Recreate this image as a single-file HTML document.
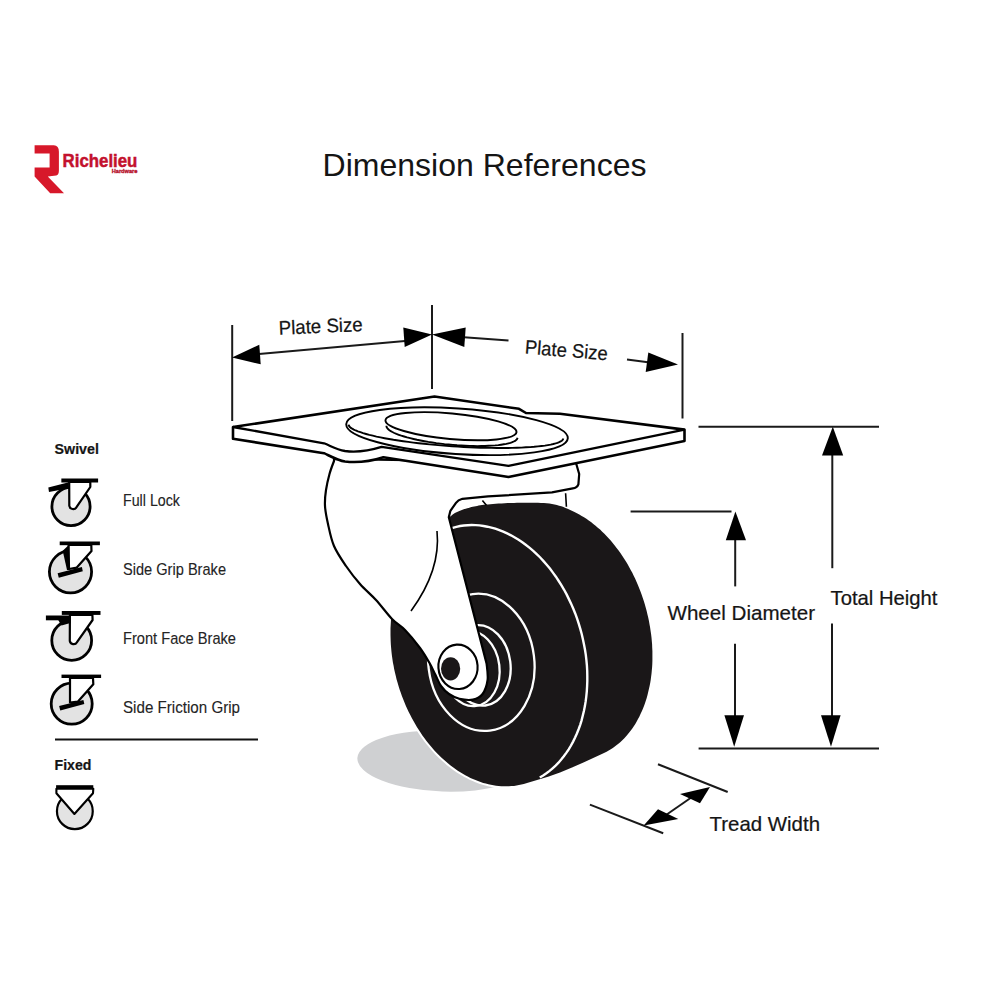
<!DOCTYPE html>
<html><head><meta charset="utf-8"><style>
html,body{margin:0;padding:0;background:#fff;overflow:hidden;width:1000px;height:1000px;}
svg{display:block;}
text{font-family:"Liberation Sans",sans-serif;fill:#151515;stroke:#151515;stroke-width:0.22px;}
</style></head><body>
<svg width="1000" height="1000" viewBox="0 0 1000 1000">
<rect width="1000" height="1000" fill="#fff"/>
<!-- logo -->
<path d="M34.6,145.2 L53.8,145.2 Q58.9,145.2 58.9,151.8 L58.9,170.4 Q58.9,174.6 56.2,175.6 L47.8,176.4 L64,193.2 L50.2,193.2 L34.6,176.4 L34.6,167.4 L49.6,167.4 L49.6,153.6 L34.6,153.6 Z" fill="#d7182a"/>
<text x="62.6" y="166.6" font-size="18.6" font-weight="bold" style="fill:#c3112d;stroke:#c3112d;stroke-width:0.5" textLength="74.8" lengthAdjust="spacingAndGlyphs">Richelieu</text>
<text x="111.7" y="172.6" font-size="4.8" font-weight="bold" style="fill:#b8142e;stroke:#b8142e;stroke-width:0.3" textLength="25.8" lengthAdjust="spacingAndGlyphs">Hardware</text>
<!-- title -->
<text x="322.5" y="176.2" font-size="31.5" style="stroke-width:0" textLength="324" lengthAdjust="spacingAndGlyphs">Dimension References</text>

<!-- left legend -->
<text x="54.6" y="454" font-size="15.2" font-weight="bold" textLength="44.3" lengthAdjust="spacingAndGlyphs">Swivel</text>
<text x="123" y="505.5" font-size="15.7" style="fill:#242424;stroke:#242424;stroke-width:0.12" textLength="57" lengthAdjust="spacingAndGlyphs">Full Lock</text>
<text x="123" y="574.5" font-size="15.7" style="fill:#242424;stroke:#242424;stroke-width:0.12" textLength="103" lengthAdjust="spacingAndGlyphs">Side Grip Brake</text>
<text x="123" y="643.8" font-size="15.7" style="fill:#242424;stroke:#242424;stroke-width:0.12" textLength="113" lengthAdjust="spacingAndGlyphs">Front Face Brake</text>
<text x="123" y="712.5" font-size="15.7" style="fill:#242424;stroke:#242424;stroke-width:0.12" textLength="117" lengthAdjust="spacingAndGlyphs">Side Friction Grip</text>
<line x1="55" y1="739.5" x2="258" y2="739.5" stroke="#111" stroke-width="2.2"/>
<text x="54.6" y="769.5" font-size="15.2" font-weight="bold" textLength="36.8" lengthAdjust="spacingAndGlyphs">Fixed</text>

<g stroke="#000" stroke-linejoin="round">
<!-- icon1 full lock -->
<circle cx="71" cy="506.5" r="19.1" fill="#e3e3e3" stroke-width="2.8"/>
<path d="M69.2,482 L69.3,505.8 A3.9,3.9 0 0 0 76.5,507.2 L90.3,487 L90.3,482Z" fill="#fff" stroke-width="2.2"/>
<path d="M48.3,487.4 L68.8,482.3 L68.8,488.2 L49,491.9Z" fill="#000" stroke="none"/>
<rect x="61.35" y="478.5" width="36.75" height="4" fill="#000" stroke="none"/>
<!-- icon2 side grip brake -->
<circle cx="70.5" cy="571.8" r="21.1" fill="#e3e3e3" stroke-width="2.8"/>
<path d="M68.6,545 L69,569 L76.8,567.6 L91.5,551.1 L91.3,545Z" fill="#fff" stroke-width="2.2"/>
<path d="M62.7,550.8 L68.6,545.3 L69.5,570 L67,570Z" fill="#000" stroke="none"/>
<path d="M57.6,573.3 L58.8,577.8 L82.8,571.2 L81.9,567Z" fill="#000" stroke="none"/>
<rect x="59.7" y="541.5" width="40.2" height="3.7" fill="#000" stroke="none"/>
<!-- icon3 front face brake -->
<circle cx="71.7" cy="640.4" r="19.9" fill="#e3e3e3" stroke-width="2.8"/>
<path d="M69.9,614.8 L69.8,641 A3.9,3.9 0 0 0 77,642.2 L92.6,620 L92.4,614.8Z" fill="#fff" stroke-width="2.2"/>
<rect x="45.9" y="615.5" width="24.3" height="4.8" fill="#000" stroke="none"/>
<path d="M58.2,620 L70.5,620 L70.5,623 L61.5,625.5 Z" fill="#000" stroke="none"/>
<rect x="61.8" y="611" width="38.7" height="3.9" fill="#000" stroke="none"/>
<!-- icon4 side friction grip -->
<circle cx="71.7" cy="703.7" r="20.5" fill="#e3e3e3" stroke-width="2.8"/>
<path d="M70,678 L70,702.5 L78,701.6 L93.3,684.2 L93,678Z" fill="#fff" stroke-width="2.2"/>
<path d="M59.1,706.1 L60.3,710.6 L84.3,704 L83.4,700.1Z" fill="#000" stroke="none"/>
<rect x="61.5" y="674.6" width="39.6" height="3.4" fill="#000" stroke="none"/>
<!-- fixed -->
<circle cx="74.85" cy="811.2" r="17.9" fill="#e3e3e3" stroke-width="2.2"/>
<path d="M56.4,788.8 L56.4,793.3 L74.4,814 L93,793.3 L93.3,788.8Z" fill="#fff" stroke-width="2.1"/>
<rect x="56.1" y="785.2" width="37.2" height="3.6" fill="#000" stroke="none"/>
</g>

<!-- shadow -->
<ellipse cx="443.3" cy="761.1" rx="86" ry="30.5" fill="#cfd0d2" transform="rotate(2 443.3 761.1)"/>
<!-- wheel -->
<path d="M560.0,772.4 L548.0,776.8 L526.2,783.3 L523.8,784.0 L521.4,784.6 L518.9,785.1 L516.5,785.6 L514.0,785.9 L511.4,786.1 L508.9,786.3 L506.4,786.3 L503.8,786.3 L501.3,786.2 L498.7,786.0 L496.1,785.7 L493.5,785.3 L490.9,784.8 L488.4,784.3 L485.8,783.6 L483.2,782.9 L480.6,782.0 L478.0,781.1 L475.5,780.1 L472.9,779.0 L470.4,777.9 L467.8,776.6 L465.3,775.2 L462.8,773.8 L460.3,772.3 L457.8,770.7 L455.4,769.1 L453.0,767.3 L450.6,765.5 L448.2,763.6 L445.9,761.6 L443.6,759.6 L441.3,757.4 L439.0,755.3 L436.8,753.0 L434.6,750.7 L432.5,748.3 L430.4,745.8 L428.3,743.3 L426.3,740.7 L424.3,738.1 L422.4,735.4 L420.5,732.6 L418.7,729.8 L416.9,727.0 L415.2,724.1 L413.5,721.1 L411.8,718.1 L410.3,715.1 L408.7,712.0 L407.3,708.9 L405.8,705.8 L404.5,702.6 L403.2,699.3 L401.9,696.1 L400.8,692.8 L399.6,689.5 L398.6,686.2 L397.6,682.8 L396.6,679.5 L395.8,676.1 L395.0,672.7 L394.2,669.3 L393.6,665.8 L392.9,662.4 L392.4,659.0 L391.9,655.5 L391.5,652.1 L391.2,648.7 L390.9,645.3 L390.7,641.8 L390.6,638.4 L390.5,635.0 L390.5,631.6 L390.5,628.3 L390.7,624.9 L390.9,621.6 L391.1,618.3 L391.5,615.0 L391.9,611.8 L392.4,608.5 L392.9,605.4 L393.5,602.2 L394.2,599.1 L394.9,596.0 L395.7,593.0 L396.6,590.0 L397.5,587.0 L398.5,584.1 L399.5,581.3 L400.7,578.5 L401.8,575.8 L403.1,573.1 L404.4,570.4 L405.7,567.9 L407.1,565.4 L408.6,562.9 L410.1,560.5 L411.7,558.2 L413.3,555.9 L415.0,553.8 L416.8,551.6 L418.5,549.6 L446.0,520.0 L449.6,517.0 L450.6,516.2 L451.6,515.4 L452.7,514.6 L453.8,513.8 L454.9,513.1 L456.0,512.5 L457.1,511.9 L458.2,511.4 L459.4,510.9 L460.6,510.4 L461.9,510.0 L463.1,509.5 L464.4,509.1 L465.8,508.7 L467.2,508.3 L468.6,507.9 L470.0,507.5 L471.4,507.1 L472.8,506.8 L474.2,506.5 L475.7,506.2 L477.1,505.9 L478.6,505.6 L480.3,505.3 L482.0,505.1 L483.8,504.8 L485.8,504.6 L488.0,504.4 L490.4,504.2 L493.0,504.0 L495.7,503.8 L498.6,503.6 L501.6,503.4 L504.7,503.3 L507.8,503.1 L510.9,503.0 L514.0,502.9 L517.0,502.8 L520.0,502.8 L525.9,502.7 L528.9,502.7 L532.0,502.7 L535.0,502.7 L538.0,502.8 L541.0,502.9 L543.8,503.0 L546.7,503.3 L549.4,503.6 L552.0,504.0 L554.5,504.5 L556.9,505.0 L559.1,505.7 L561.3,506.3 L563.5,507.1 L565.5,507.9 L567.6,508.8 L569.7,509.7 L574.5,512.0 L576.9,513.2 L579.3,514.5 L581.7,515.9 L584.0,517.3 L586.4,518.8 L588.7,520.5 L591.0,522.1 L593.3,523.9 L595.6,525.7 L597.8,527.7 L600.1,529.6 L602.2,531.7 L604.4,533.8 L606.5,536.0 L608.6,538.3 L610.7,540.6 L612.7,543.0 L614.7,545.4 L616.6,547.9 L618.6,550.5 L620.4,553.1 L622.2,555.8 L624.0,558.5 L625.8,561.3 L627.5,564.1 L629.1,566.9 L630.7,569.9 L632.3,572.8 L633.7,575.8 L635.2,578.8 L636.6,581.9 L637.9,585.0 L639.2,588.2 L640.4,591.3 L641.6,594.5 L642.7,597.7 L643.8,601.0 L644.8,604.3 L645.7,607.5 L646.6,610.8 L647.4,614.2 L648.2,617.5 L648.9,620.8 L649.5,624.2 L650.1,627.5 L650.6,630.9 L651.1,634.2 L651.5,637.6 L651.8,640.9 L652.1,644.3 L652.2,647.6 L652.4,650.9 L652.4,654.2 L652.4,657.5 L652.4,660.8 L652.3,664.0 L652.1,667.3 L651.8,670.5 L651.5,673.7 L651.1,676.8 L650.7,679.9 L650.2,683.0 L649.6,686.1 L648.9,689.1 L648.2,692.0 L647.5,695.0 L646.7,697.9 L645.8,700.7 L644.9,703.5 L643.9,706.2 L642.8,708.9 L641.7,711.6 L640.5,714.1 L639.3,716.7 L638.0,719.1 L636.7,721.5 L635.3,723.9 L633.8,726.2 L632.3,728.4 L630.8,730.5 L629.2,732.6 L627.6,734.6 L625.9,736.6 L624.1,738.4 L622.3,740.2 L620.5,741.9 L618.7,743.6 L616.7,745.1 L614.8,746.6 L612.8,748.0 L610.8,749.3 L608.7,750.6 L606.6,751.7 L604.5,752.8 L602.4,753.8 L584.0,762.2 L572.0,767.6Z" fill="#fff" stroke="#fff" stroke-width="4"/>
<path d="M560.0,772.4 L548.0,776.8 L526.2,783.3 L523.8,784.0 L521.4,784.6 L518.9,785.1 L516.5,785.6 L514.0,785.9 L511.4,786.1 L508.9,786.3 L506.4,786.3 L503.8,786.3 L501.3,786.2 L498.7,786.0 L496.1,785.7 L493.5,785.3 L490.9,784.8 L488.4,784.3 L485.8,783.6 L483.2,782.9 L480.6,782.0 L478.0,781.1 L475.5,780.1 L472.9,779.0 L470.4,777.9 L467.8,776.6 L465.3,775.2 L462.8,773.8 L460.3,772.3 L457.8,770.7 L455.4,769.1 L453.0,767.3 L450.6,765.5 L448.2,763.6 L445.9,761.6 L443.6,759.6 L441.3,757.4 L439.0,755.3 L436.8,753.0 L434.6,750.7 L432.5,748.3 L430.4,745.8 L428.3,743.3 L426.3,740.7 L424.3,738.1 L422.4,735.4 L420.5,732.6 L418.7,729.8 L416.9,727.0 L415.2,724.1 L413.5,721.1 L411.8,718.1 L410.3,715.1 L408.7,712.0 L407.3,708.9 L405.8,705.8 L404.5,702.6 L403.2,699.3 L401.9,696.1 L400.8,692.8 L399.6,689.5 L398.6,686.2 L397.6,682.8 L396.6,679.5 L395.8,676.1 L395.0,672.7 L394.2,669.3 L393.6,665.8 L392.9,662.4 L392.4,659.0 L391.9,655.5 L391.5,652.1 L391.2,648.7 L390.9,645.3 L390.7,641.8 L390.6,638.4 L390.5,635.0 L390.5,631.6 L390.5,628.3 L390.7,624.9 L390.9,621.6 L391.1,618.3 L391.5,615.0 L391.9,611.8 L392.4,608.5 L392.9,605.4 L393.5,602.2 L394.2,599.1 L394.9,596.0 L395.7,593.0 L396.6,590.0 L397.5,587.0 L398.5,584.1 L399.5,581.3 L400.7,578.5 L401.8,575.8 L403.1,573.1 L404.4,570.4 L405.7,567.9 L407.1,565.4 L408.6,562.9 L410.1,560.5 L411.7,558.2 L413.3,555.9 L415.0,553.8 L416.8,551.6 L418.5,549.6 L446.0,520.0 L449.6,517.0 L450.6,516.2 L451.6,515.4 L452.7,514.6 L453.8,513.8 L454.9,513.1 L456.0,512.5 L457.1,511.9 L458.2,511.4 L459.4,510.9 L460.6,510.4 L461.9,510.0 L463.1,509.5 L464.4,509.1 L465.8,508.7 L467.2,508.3 L468.6,507.9 L470.0,507.5 L471.4,507.1 L472.8,506.8 L474.2,506.5 L475.7,506.2 L477.1,505.9 L478.6,505.6 L480.3,505.3 L482.0,505.1 L483.8,504.8 L485.8,504.6 L488.0,504.4 L490.4,504.2 L493.0,504.0 L495.7,503.8 L498.6,503.6 L501.6,503.4 L504.7,503.3 L507.8,503.1 L510.9,503.0 L514.0,502.9 L517.0,502.8 L520.0,502.8 L525.9,502.7 L528.9,502.7 L532.0,502.7 L535.0,502.7 L538.0,502.8 L541.0,502.9 L543.8,503.0 L546.7,503.3 L549.4,503.6 L552.0,504.0 L554.5,504.5 L556.9,505.0 L559.1,505.7 L561.3,506.3 L563.5,507.1 L565.5,507.9 L567.6,508.8 L569.7,509.7 L574.5,512.0 L576.9,513.2 L579.3,514.5 L581.7,515.9 L584.0,517.3 L586.4,518.8 L588.7,520.5 L591.0,522.1 L593.3,523.9 L595.6,525.7 L597.8,527.7 L600.1,529.6 L602.2,531.7 L604.4,533.8 L606.5,536.0 L608.6,538.3 L610.7,540.6 L612.7,543.0 L614.7,545.4 L616.6,547.9 L618.6,550.5 L620.4,553.1 L622.2,555.8 L624.0,558.5 L625.8,561.3 L627.5,564.1 L629.1,566.9 L630.7,569.9 L632.3,572.8 L633.7,575.8 L635.2,578.8 L636.6,581.9 L637.9,585.0 L639.2,588.2 L640.4,591.3 L641.6,594.5 L642.7,597.7 L643.8,601.0 L644.8,604.3 L645.7,607.5 L646.6,610.8 L647.4,614.2 L648.2,617.5 L648.9,620.8 L649.5,624.2 L650.1,627.5 L650.6,630.9 L651.1,634.2 L651.5,637.6 L651.8,640.9 L652.1,644.3 L652.2,647.6 L652.4,650.9 L652.4,654.2 L652.4,657.5 L652.4,660.8 L652.3,664.0 L652.1,667.3 L651.8,670.5 L651.5,673.7 L651.1,676.8 L650.7,679.9 L650.2,683.0 L649.6,686.1 L648.9,689.1 L648.2,692.0 L647.5,695.0 L646.7,697.9 L645.8,700.7 L644.9,703.5 L643.9,706.2 L642.8,708.9 L641.7,711.6 L640.5,714.1 L639.3,716.7 L638.0,719.1 L636.7,721.5 L635.3,723.9 L633.8,726.2 L632.3,728.4 L630.8,730.5 L629.2,732.6 L627.6,734.6 L625.9,736.6 L624.1,738.4 L622.3,740.2 L620.5,741.9 L618.7,743.6 L616.7,745.1 L614.8,746.6 L612.8,748.0 L610.8,749.3 L608.7,750.6 L606.6,751.7 L604.5,752.8 L602.4,753.8 L584.0,762.2 L572.0,767.6Z" fill="#1a1718"/>
<path d="M407.2,565.3 L409.4,561.6 L411.8,558.0 L414.3,554.6 L417.0,551.4 L419.7,548.3 L422.6,545.4 L425.6,542.7 L428.7,540.1 L431.9,537.8 L435.1,535.6 L438.5,533.6 L441.9,531.9 L445.4,530.3 L449.0,528.9 L452.7,527.8 L456.4,526.8 L460.1,526.0 L463.9,525.5 L467.8,525.2 L471.7,525.0 L475.6,525.1 L479.5,525.4 L483.5,526.0 L487.4,526.7 L491.4,527.6 L495.3,528.7 L499.3,530.1 L503.2,531.6 L507.1,533.4 L511.0,535.3 L514.8,537.5 L518.6,539.8 L522.3,542.3 L526.0,545.0 L529.7,547.9 L533.2,550.9 L536.7,554.2 L540.2,557.5 L543.5,561.1 L546.7,564.8 L549.9,568.6 L552.9,572.6 L555.9,576.7 L558.7,581.0 L561.5,585.4 L564.1,589.8 L566.6,594.4 L568.9,599.1 L571.2,603.9 L573.3,608.8 L575.3,613.7 L577.1,618.7 L578.8,623.8 L580.3,628.9 L581.7,634.0 L582.9,639.2 L584.0,644.5 L585.0,649.7 L585.8,654.9 L586.4,660.2 L586.9,665.4 L587.2,670.7 L587.3,675.9 L587.3,681.0 L587.1,686.2 L586.8,691.3 L586.3,696.3 L585.7,701.2 L584.9,706.1 L583.9,710.9 L582.8,715.6 L581.6,720.3 L580.2,724.8 L578.6,729.2 L576.9,733.5 L575.1,737.6 L573.1,741.6 L571.0,745.5 L568.7,749.3 L566.3,752.9 L563.8,756.3 L561.2,759.6 L558.5,762.7 L555.6,765.6 L552.6,768.3 L549.6,770.9 L546.4,773.3 L543.2,775.5 L539.8,777.5" fill="none" stroke="#fff" stroke-width="2.4"/>
<g fill="none" stroke="#fff" stroke-width="2.3">
<ellipse cx="481.3" cy="662.3" rx="68.8" ry="53.0" transform="rotate(82.86 481.3 662.3)"/>
<ellipse cx="480.3" cy="665.4" rx="40.4" ry="30.2" transform="rotate(82.86 480.3 665.4)"/>
<ellipse cx="471.3" cy="668.5" rx="37.7" ry="28.2" transform="rotate(82.86 471.3 668.5)"/>
</g>
<!-- housing+fork -->
<path d="M334,459 L576,463 L579.2,474 L578.4,484.4 Q577,488 572.8,488.4 L552,492.4 L488,496.4 L462.4,498.8 Q458,500 456,502.8 L450.4,510.8 L448.8,517.2 L486.6,663.6 C486.8,666.3 488.3,674.9 487.6,680.0 C486.9,685.1 485.0,690.7 482.6,694.0 C480.2,697.3 476.9,698.8 473.0,699.6 C469.1,700.4 463.4,699.7 459.4,698.8 C455.4,697.9 452.1,696.1 449.0,694.0 C445.9,691.9 443.3,689.2 441.0,686.0 C438.7,682.8 437.3,678.5 435.4,674.8 C433.5,671.1 432.4,668.1 429.8,663.6 C427.2,659.1 424.1,653.6 420.0,648.0 C415.9,642.4 409.7,634.8 405.0,630.0 C400.3,625.2 396.8,624.0 392.0,619.0 C387.2,614.0 381.3,605.8 376.0,600.0 C370.7,594.2 365.0,589.7 360.0,584.0 C355.0,578.3 350.3,572.3 346.0,566.0 C341.7,559.7 337.0,553.0 334.0,546.0 C331.0,539.0 329.5,530.7 328.0,524.0 C326.5,517.3 325.3,511.7 325.0,506.0 C324.7,500.3 325.2,495.3 326.0,490.0 C326.8,484.7 328.2,478.8 329.5,474.0 C330.8,469.2 333.2,463.2 334.0,461.0 Z" fill="#fff" stroke="#000" stroke-width="2.2" stroke-linejoin="round"/>
<path d="M482.4,500.4 L486.4,505.2 M565.6,493.2 L566.4,506.8" stroke="#000" stroke-width="1.6"/>
<path d="M437,531 Q441,570 411,611" fill="none" stroke="#000" stroke-width="1.6"/>
<!-- nut -->
<ellipse cx="458" cy="666.8" rx="19.6" ry="22.2" fill="#fff" stroke="#000" stroke-width="2.1" transform="rotate(-4 458 666.8)"/>
<ellipse cx="450.6" cy="668.8" rx="9.6" ry="11.6" fill="#1a1718"/>

<!-- plate -->
<path d="M233,427 L434.5,396.5 L519,408.8 L526,413 L560,413.8 L684.5,429.6 L684.5,441 L508.5,477 L383.4,457.2 C370,461.5 358,463 345,461.5 C338,460.5 332,457 324,453.2 L233,438.8 Z" fill="#fff" stroke="#000" stroke-width="2.6" stroke-linejoin="round"/>
<path d="M233,427 L324,443.3 C331,446 336,449.5 345,451 C357,452.5 370,450.5 381.6,446.9 L508.5,465.8 L684.5,429.6" fill="none" stroke="#000" stroke-width="2.3" stroke-linejoin="round"/>
<g fill="none" stroke="#000" stroke-width="1.9">
<ellipse cx="457" cy="431.2" rx="111" ry="22.8" transform="rotate(3.7 457 431.5)"/>
<path d="M563.3,438.4 L563.1,439.2 L562.6,440.0 L561.8,440.7 L560.6,441.4 L559.2,442.1 L557.5,442.8 L555.6,443.4 L553.3,444.0 L550.7,444.6 L547.9,445.1 L544.9,445.6 L541.5,446.0 L538.0,446.4 L534.2,446.8 L530.1,447.1 L525.9,447.3 L521.5,447.6 L516.9,447.7 L512.1,447.9 L507.1,448.0 L502.0,448.0 L496.8,448.0 L491.5,447.9 L486.0,447.8 L480.5,447.7 L474.9,447.5 L469.3,447.3 L463.6,447.0 L457.9,446.6 L452.2,446.3 L446.5,445.9 L440.8,445.4 L435.2,444.9 L429.6,444.4 L424.1,443.8 L418.7,443.2 L413.4,442.6 L408.2,441.9 L403.2,441.2 L398.3,440.5 L393.5,439.8 L389.0,439.0 L384.6,438.2 L380.5,437.4 L376.5,436.6 L372.8,435.7 L369.3,434.9 L366.1,434.0 L363.1,433.1 L360.4,432.2 L357.9,431.4 L355.7,430.5 L353.8,429.6 L352.2,428.7 L350.9,427.9 L349.9,427.0 L349.2,426.2 L348.8,425.4 L348.7,424.6"/>
<ellipse cx="451" cy="426.2" rx="65.8" ry="12.8" transform="rotate(5.2 451 426.2)"/>
<path d="M517.5,437.8 L517.3,438.6 L516.8,439.4 L516.1,440.1 L515.1,440.9 L513.8,441.5 L512.3,442.2 L510.5,442.8 L508.5,443.3 L506.3,443.9 L503.8,444.3 L501.1,444.7 L498.3,445.1 L495.2,445.4 L491.9,445.6 L488.5,445.8 L485.0,446.0 L481.3,446.0 L477.4,446.1 L473.5,446.0 L469.5,445.9 L465.4,445.7 L461.3,445.5 L457.1,445.3 L452.9,444.9 L448.7,444.5 L444.5,444.1 L440.4,443.6 L436.3,443.1 L432.2,442.5 L428.3,441.9 L424.4,441.2 L420.6,440.5 L417.0,439.8 L413.5,439.0 L410.2,438.2 L407.1,437.4 L404.1,436.5 L401.3,435.7 L398.8,434.8 L396.4,433.9 L394.3,433.0 L392.4,432.0 L390.8,431.1 L389.4,430.2 L388.3,429.3 L387.5,428.4 L386.9,427.5 L386.5,426.7 L386.5,425.8"/>
</g>

<!-- dimension lines -->
<g stroke="#1a1a1a" stroke-width="2" fill="none">
<line x1="232.2" y1="325" x2="232.2" y2="421"/>
<line x1="432" y1="305" x2="432" y2="389"/>
<line x1="682.5" y1="333" x2="682.5" y2="418.5"/>
<line x1="259" y1="354" x2="405" y2="341"/>
<line x1="464" y1="337.3" x2="508.5" y2="340.6"/>
<line x1="627" y1="359.4" x2="648" y2="362.2"/>
<line x1="698.5" y1="426.8" x2="879" y2="426.8"/>
<line x1="630.6" y1="511.4" x2="731.5" y2="511.4"/>
<line x1="698.6" y1="748.6" x2="879" y2="748.6"/>
<line x1="832.3" y1="455" x2="832.3" y2="568.2"/>
<line x1="832" y1="623.4" x2="832" y2="716"/>
<line x1="735.2" y1="540" x2="735.2" y2="586.4"/>
<line x1="735" y1="643.8" x2="735" y2="716"/>
<line x1="658" y1="764.3" x2="727.7" y2="792"/>
<line x1="589.9" y1="804.6" x2="663.2" y2="833.2"/>
<line x1="692" y1="797" x2="666" y2="815"/>
</g>
<g fill="#000">
<path d="M232,357.5 L259.3,344.8 L260.7,364.3Z"/>
<path d="M432,334.5 L403.3,327.5 L404.7,347Z"/>
<path d="M432,334.5 L465.7,327.6 L464.3,347Z"/>
<path d="M678,364.5 L648.3,352.5 L645.7,372Z"/>
<path d="M832.8,426.8 L822,455.4 L843.2,455.4Z"/>
<path d="M735.4,511.4 L725.8,540.2 L746,540.2Z"/>
<path d="M831,746.8 L821,715.3 L840.6,715.3Z"/>
<path d="M734.2,746.8 L724.4,715.3 L744,715.3Z"/>
<path d="M710,787 L680,794 L700,803.3Z"/>
<path d="M643.7,825.4 L658,809.3 L678.3,819Z"/>
</g>
<text x="279" y="334.7" font-size="19.6" textLength="84" lengthAdjust="spacingAndGlyphs" transform="rotate(-2.5 279 334.7)">Plate Size</text>
<text x="524.5" y="353.6" font-size="19.6" textLength="83" lengthAdjust="spacingAndGlyphs" transform="rotate(4.6 524.5 353.6)">Plate Size</text>
<text x="667.5" y="619.6" font-size="20.5" textLength="147.5" lengthAdjust="spacingAndGlyphs">Wheel Diameter</text>
<text x="830.5" y="605.2" font-size="20.6" textLength="107" lengthAdjust="spacingAndGlyphs">Total Height</text>
<text x="709.5" y="831" font-size="21" textLength="110.5" lengthAdjust="spacingAndGlyphs">Tread Width</text>
</svg>
</body></html>
